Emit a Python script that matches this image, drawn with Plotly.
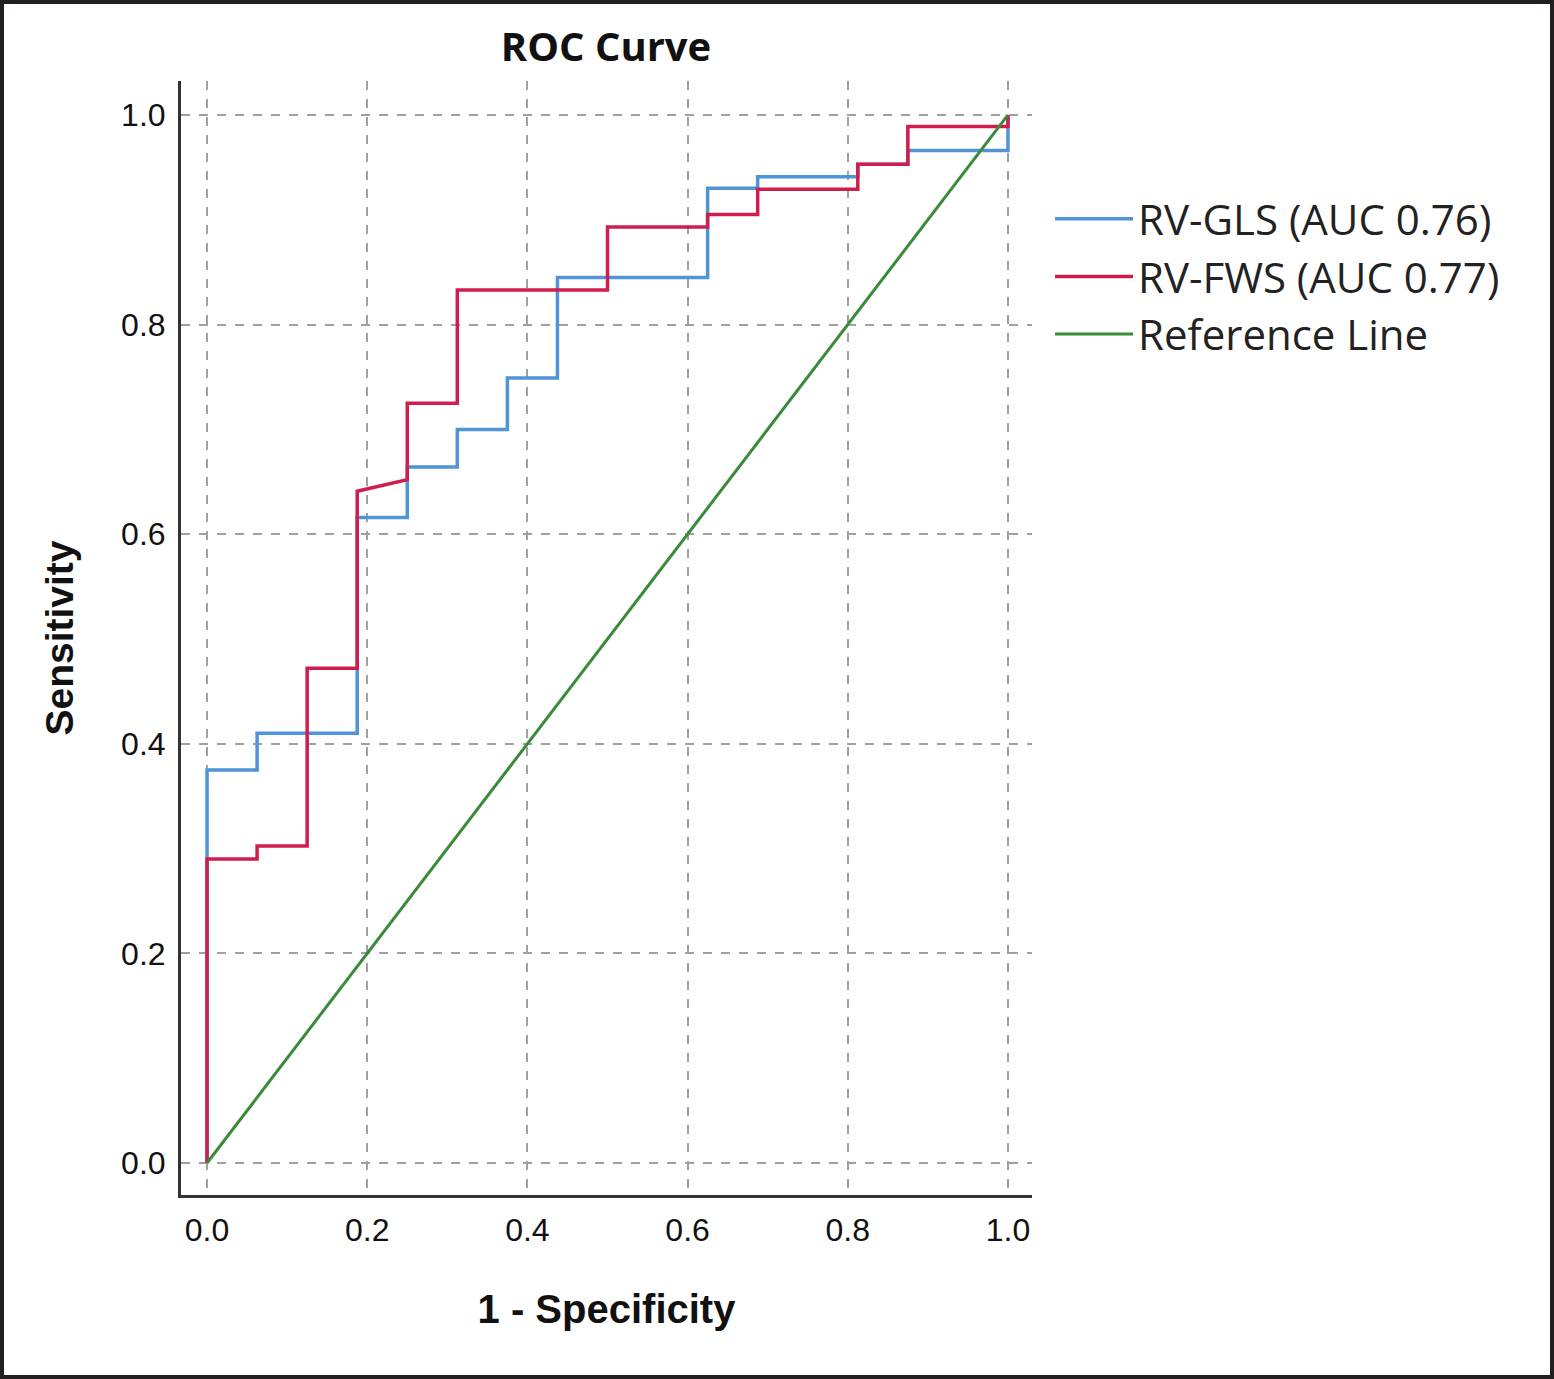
import plotly.graph_objects as go

# ---- data ----
gls_fpr = [0.0, 0.0, 0.0625, 0.0625, 0.1875, 0.1875, 0.25, 0.25, 0.3125, 0.3125, 0.375, 0.375,
           0.4375, 0.4375, 0.625, 0.625, 0.6875, 0.6875, 0.8125, 0.8125, 0.875, 0.875, 1.0, 1.0]
gls_tpr = [0.0, 0.375, 0.375, 0.41, 0.41, 0.616, 0.616, 0.664, 0.664, 0.70, 0.70, 0.749,
           0.749, 0.845, 0.845, 0.930, 0.930, 0.941, 0.941, 0.953, 0.953, 0.966, 0.966, 1.0]

fws_fpr = [0.0, 0.0, 0.0625, 0.0625, 0.125, 0.125, 0.1875, 0.1875, 0.25, 0.25, 0.3125, 0.3125,
           0.5, 0.5, 0.625, 0.625, 0.6875, 0.6875, 0.8125, 0.8125, 0.875, 0.875, 1.0, 1.0]
fws_tpr = [0.0, 0.29, 0.29, 0.3025, 0.3025, 0.472, 0.472, 0.641, 0.652, 0.725, 0.725, 0.833,
           0.833, 0.893, 0.893, 0.905, 0.905, 0.929, 0.929, 0.953, 0.953, 0.989, 0.989, 1.0]

ref_x = [0.0, 1.0]
ref_y = [0.0, 1.0]

series_names = ["RV-GLS (AUC 0.76)", "RV-FWS (AUC 0.77)", "Reference Line"]
tick_vals = [0.0, 0.2, 0.4, 0.6, 0.8, 1.0]
tick_text = ["0.0", "0.2", "0.4", "0.6", "0.8", "1.0"]

# ---- layout geometry ----
W, H = 1554, 1379
ML, MR, MT, MB = 181, 522, 81, 184
PW, PH = W - ML - MR, H - MT - MB

fig = go.Figure()
fig.add_trace(go.Scatter(x=gls_fpr, y=gls_tpr, mode="lines", name=series_names[0],
                         line=dict(color="#4f93d8", width=3.5)))
fig.add_trace(go.Scatter(x=fws_fpr, y=fws_tpr, mode="lines", name=series_names[1],
                         line=dict(color="#d11d4c", width=3.5)))
fig.add_trace(go.Scatter(x=ref_x, y=ref_y, mode="lines", name=series_names[2],
                         line=dict(color="#3a8a3a", width=3)))

axis_common = dict(
    showgrid=True, gridcolor="#a0a0a0", gridwidth=1.8, griddash="dash",
    zeroline=False, showline=True, linecolor="#333333", linewidth=3,
    tickvals=tick_vals, ticktext=tick_text,
    ticks="outside", tickcolor="rgba(0,0,0,0)",
    tickfont=dict(family="Liberation Sans, Arial, sans-serif", size=32, color="#111111"),
)

fig.update_layout(
    width=W, height=H,
    margin=dict(l=ML, r=MR, t=MT, b=MB),
    paper_bgcolor="white", plot_bgcolor="white",
    title=dict(text="<b>ROC Curve</b>", x=606 / W, xref="container",
               xanchor="center", y=1 - 47 / H, yanchor="middle",
               font=dict(family="Open Sans, sans-serif", size=40, color="#111111")),
    xaxis=dict(range=[-0.0325, 1.03], ticklen=5,
               title=dict(text="<b>1 - Specificity</b>", standoff=48,
                          font=dict(family="Liberation Sans, Arial, sans-serif", size=40, color="#111111")),
               **axis_common),
    yaxis=dict(range=[-0.0305, 1.0324], ticklen=6,
               title=dict(text="<b>Sensitivity</b>", standoff=36,
                          font=dict(family="Liberation Sans, Arial, sans-serif", size=39, color="#111111")),
               **axis_common),
    showlegend=True,
    legend=dict(x=(1050 - ML) / PW, y=(H - MB - 185) / PH, xanchor="left", yanchor="top",
                font=dict(family="Open Sans, sans-serif", size=42, color="#222222"),
                bgcolor="rgba(0,0,0,0)", itemwidth=78, tracegroupgap=0),
    shapes=[dict(type="rect", xref="paper", yref="paper",
                 x0=-ML / PW, x1=(W - ML) / PW, y0=-MB / PH, y1=(H - MB) / PH,
                 line=dict(color="#231f20", width=8), fillcolor="rgba(0,0,0,0)", layer="above")],
)

fig.write_html("out.html", config={"displayModeBar": False},
               post_script="document.body.style.margin='0';document.body.style.padding='0';")
